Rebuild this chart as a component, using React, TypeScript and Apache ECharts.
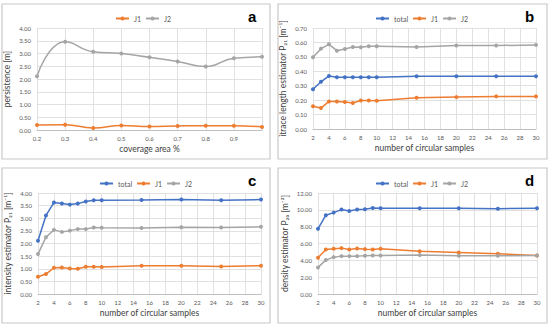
import React, { useEffect, useRef } from "react";
import * as echarts from "echarts";

const coverage = [0.2, 0.3, 0.4, 0.5, 0.6, 0.7, 0.8, 0.9, 1.0];
const persJ1 = [0.2, 0.21, 0.08, 0.18, 0.14, 0.16, 0.17, 0.17, 0.12];
const persJ2 = [2.11, 3.46, 3.07, 3.0, 2.85, 2.69, 2.49, 2.81, 2.87];

const samples = [2, 3, 4, 5, 6, 7, 8, 9, 10, 15, 20, 25, 30];
const p21TraceTotal = [0.276, 0.327, 0.368, 0.359, 0.359, 0.359, 0.359, 0.359, 0.359, 0.366, 0.366, 0.366, 0.366];
const p21TraceJ1 = [0.157, 0.145, 0.191, 0.191, 0.187, 0.18, 0.198, 0.198, 0.196, 0.216, 0.221, 0.226, 0.226];
const p21TraceJ2 = [0.497, 0.557, 0.587, 0.543, 0.555, 0.569, 0.567, 0.573, 0.573, 0.569, 0.578, 0.578, 0.583];

const p21Total = [2.11, 3.11, 3.62, 3.58, 3.54, 3.58, 3.66, 3.71, 3.71, 3.72, 3.74, 3.71, 3.74];
const p21J1 = [0.68, 0.79, 1.04, 1.05, 1.01, 1.0, 1.08, 1.08, 1.07, 1.12, 1.12, 1.09, 1.12];
const p21J2 = [1.58, 2.25, 2.54, 2.46, 2.51, 2.57, 2.57, 2.63, 2.62, 2.61, 2.64, 2.63, 2.66];

const p20Total = [7.74, 9.36, 9.67, 10.03, 9.87, 10.03, 10.07, 10.22, 10.18, 10.18, 10.18, 10.14, 10.18];
const p20J1 = [4.3, 5.29, 5.37, 5.45, 5.29, 5.41, 5.33, 5.29, 5.37, 5.09, 4.93, 4.78, 4.58];
const p20J2 = [3.16, 4.03, 4.38, 4.5, 4.5, 4.5, 4.54, 4.58, 4.58, 4.62, 4.54, 4.54, 4.58];

const BLUE = "#4472C4";
const ORANGE = "#ED7D31";
const GRAY = "#A5A5A5";
const FONT = "Lato, 'Liberation Sans', sans-serif";

const pair = (xs: number[], ys: number[]) => xs.map((x, i) => [x, ys[i]]);

export default function App() {
  const ref = useRef<HTMLDivElement>(null);
  useEffect(() => {
    if (!ref.current) return;
    const chart = echarts.init(ref.current, undefined, { renderer: "svg" });

    const grids = [
      { left: 37, top: 28, width: 225, height: 102 },
      { left: 313, top: 28, width: 223, height: 101 },
      { left: 38, top: 193, width: 223, height: 101 },
      { left: 318, top: 193, width: 219, height: 101 },
    ];

    const axisLabel = { fontSize: 6, color: "#595959", fontFamily: FONT };
    const splitLine = { show: true, lineStyle: { color: "#D9D9D9", width: 0.8 } };
    const nameStyle = { fontSize: 8.5, color: "#404040", fontFamily: FONT };

    const xAxisCommon = (gi: number) => ({
      gridIndex: gi,
      type: "value",
      min: 2,
      max: 30,
      interval: 2,
      name: "number of circular samples",
      nameLocation: "middle",
      nameGap: 14,
      nameTextStyle: nameStyle,
      axisLabel: { ...axisLabel, margin: 5 },
      axisLine: { lineStyle: { color: "#BFBFBF" } },
      axisTick: { show: false },
      splitLine,
    });

    const yAxisCommon = (gi: number, max: number, interval: number, name: string, gap: number) => ({
      gridIndex: gi,
      type: "value",
      min: 0,
      max,
      interval,
      name,
      nameLocation: "middle",
      nameGap: gap,
      nameTextStyle: nameStyle,
      axisLabel: { ...axisLabel, formatter: (v: number) => v.toFixed(2), margin: 6 },
      axisLine: { show: false },
      axisTick: { show: false },
      splitLine,
    });

    const mkSeries = (name: string, color: string, data: number[][], gi: number, smooth = false) => ({
      name,
      type: "line",
      xAxisIndex: gi,
      yAxisIndex: gi,
      data,
      smooth,
      symbol: "circle",
      symbolSize: 4,
      lineStyle: { color, width: 1.5 },
      itemStyle: { color },
    });

    const legend = (left: number, top: number, names: string[]) => ({
      top,
      left,
      orient: "horizontal",
      data: names,
      itemWidth: 13,
      itemHeight: 5,
      itemGap: 4,
      textStyle: { fontSize: 7, color: "#595959", fontFamily: FONT },
    });

    const panels = [
      { x: 2, y: 4, w: 268, h: 155, label: "a" },
      { x: 278, y: 4, w: 269, h: 155, label: "b" },
      { x: 2, y: 168, w: 268, h: 155, label: "c" },
      { x: 278, y: 168, w: 269, h: 155, label: "d" },
    ];

    const option: any = {
      animation: false,
      backgroundColor: "#fff",
      grid: grids.map((g) => ({ ...g, containLabel: false })),
      legend: [
        legend(110, 10, ["J1", "J2"]),
        legend(370, 10, ["total", "J1", "J2"]),
        legend(94, 175, ["total", "J1", "J2"]),
        legend(370, 175, ["total", "J1", "J2"]),
      ],
      xAxis: [
        {
          ...xAxisCommon(0),
          min: 0.2,
          max: 1.0,
          interval: 0.1,
          name: "coverage area %",
          axisLabel: {
            ...axisLabel,
            margin: 5,
            formatter: (v: number) => (v > 0.95 ? "" : v.toFixed(1)),
          },
        },
        xAxisCommon(1),
        xAxisCommon(2),
        xAxisCommon(3),
      ],
      yAxis: [
        yAxisCommon(0, 4, 0.5, "persistence [m]", 26),
        yAxisCommon(1, 0.7, 0.1, "itrace length estimator P₂₁ [m⁻¹]", 26),
        yAxisCommon(2, 4, 0.5, "intensity estimator P₂₁ [m⁻¹]", 26),
        yAxisCommon(3, 12, 2, "density estimator P₂₀ [m⁻²]", 29),
      ],
      series: [
        mkSeries("J1", ORANGE, pair(coverage, persJ1), 0, true),
        mkSeries("J2", GRAY, pair(coverage, persJ2), 0, true),
        mkSeries("total", BLUE, pair(samples, p21TraceTotal), 1),
        mkSeries("J1", ORANGE, pair(samples, p21TraceJ1), 1),
        mkSeries("J2", GRAY, pair(samples, p21TraceJ2), 1),
        mkSeries("total", BLUE, pair(samples, p21Total), 2),
        mkSeries("J1", ORANGE, pair(samples, p21J1), 2),
        mkSeries("J2", GRAY, pair(samples, p21J2), 2),
        mkSeries("total", BLUE, pair(samples, p20Total), 3),
        mkSeries("J1", ORANGE, pair(samples, p20J1), 3),
        mkSeries("J2", GRAY, pair(samples, p20J2), 3),
      ],
      graphic: [
        ...panels.map((p) => ({
          type: "rect",
          shape: { x: p.x, y: p.y, width: p.w, height: p.h },
          style: { fill: "none", stroke: "#C8C8C8", lineWidth: 1.2 },
          silent: true,
        })),
        ...panels.map((p) => ({
          type: "text",
          x: p.x + p.w - 22,
          y: p.y + 5,
          style: {
            text: p.label,
            font: "bold 15px 'Liberation Sans', Arial, sans-serif",
            fill: "#000",
          },
          silent: true,
        })),
      ],
    };
    chart.setOption(option);
    return () => chart.dispose();
  }, []);

  return (
    <div
      ref={ref}
      style={{ position: "fixed", left: 0, top: 0, width: 550, height: 330, background: "#fff" }}
    />
  );
}
